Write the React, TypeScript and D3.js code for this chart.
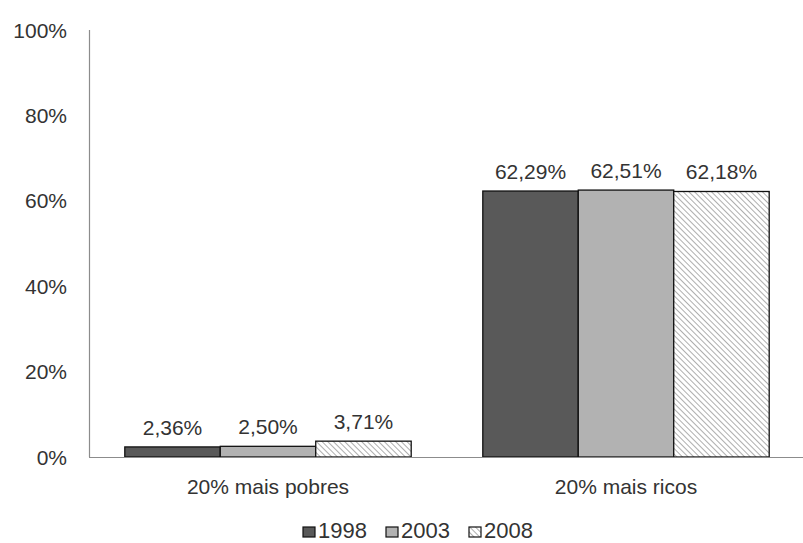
import React, { useEffect, useRef } from 'react';
import * as d3 from 'd3';

const categories = ['20% mais pobres', '20% mais ricos'];
const years = ['1998', '2003', '2008'];
const values1998 = [2.36, 62.29];
const values2003 = [2.5, 62.51];
const values2008 = [3.71, 62.18];
const yTicks = [0, 20, 40, 60, 80, 100];

const fills = ['#595959', '#b2b2b2', 'url(#hatch)'];
const font = '"Liberation Sans", Arial, sans-serif';

export default function App() {
  const svgRef = useRef<SVGSVGElement>(null);

  useEffect(() => {
    if (!svgRef.current) return;
    const width = 803;
    const height = 543;
    const svg = d3.select(svgRef.current);
    svg.selectAll('*').remove();
    svg.attr('width', width).attr('height', height);

    const defs = svg.append('defs');
    const pat = defs.append('pattern')
      .attr('id', 'hatch')
      .attr('patternUnits', 'userSpaceOnUse')
      .attr('width', 4).attr('height', 4)
      .attr('patternTransform', 'rotate(45)');
    pat.append('rect').attr('width', 4).attr('height', 4).attr('fill', '#ffffff');
    pat.append('line').attr('x1', 0).attr('y1', 0).attr('x2', 4).attr('y2', 0)
      .attr('stroke', '#9a9a9a').attr('stroke-width', 1.6);

    const series = [values1998, values2003, values2008];

    const x0 = d3.scaleBand().domain(categories).range([89, 805]).paddingInner(0.2).paddingOuter(0.1);
    const x1 = d3.scaleBand().domain(years).range([0, x0.bandwidth()]);
    const y = d3.scaleLinear().domain([0, 100]).range([457, 30]);

    // y axis line
    svg.append('line').attr('x1', 89.5).attr('x2', 89.5).attr('y1', y(100)).attr('y2', y(0))
      .attr('stroke', '#8c8c8c').attr('stroke-width', 1.2);

    // tick labels
    svg.selectAll('.ytick').data(yTicks).enter().append('text')
      .attr('x', 67).attr('y', (d) => y(d))
      .attr('text-anchor', 'end').attr('dominant-baseline', 'central')
      .attr('font-family', font).attr('font-size', 21).attr('fill', '#333')
      .text((d) => `${d}%`);

    // bars
    categories.forEach((c, ci) => {
      years.forEach((yr, si) => {
        const v = series[si][ci];
        const bx = (x0(c) || 0) + (x1(yr) || 0);
        svg.append('rect')
          .attr('x', bx).attr('y', y(v))
          .attr('width', x1.bandwidth()).attr('height', y(0) - y(v))
          .attr('fill', fills[si]).attr('stroke', '#111').attr('stroke-width', 1.3);
        svg.append('text')
          .attr('x', bx + x1.bandwidth() / 2).attr('y', y(v) - 12)
          .attr('text-anchor', 'middle')
          .attr('font-family', font).attr('font-size', 21).attr('fill', '#333')
          .text(v.toFixed(2).replace('.', ',') + '%');
      });
      svg.append('text')
        .attr('x', (x0(c) || 0) + x0.bandwidth() / 2).attr('y', 494)
        .attr('text-anchor', 'middle')
        .attr('font-family', font).attr('font-size', 21).attr('fill', '#333')
        .text(c);
    });

    // x axis line
    svg.append('line').attr('x1', 89).attr('x2', 803).attr('y1', y(0) + 0.5).attr('y2', y(0) + 0.5)
      .attr('stroke', '#8c8c8c').attr('stroke-width', 1.2);

    // legend
    const legendX = [303, 386, 469];
    years.forEach((yr, i) => {
      svg.append('rect')
        .attr('x', legendX[i]).attr('y', 527).attr('width', 12).attr('height', 10)
        .attr('fill', fills[i]).attr('stroke', '#111').attr('stroke-width', 1.2);
      svg.append('text')
        .attr('x', legendX[i] + 15).attr('y', 538)
        .attr('font-family', font).attr('font-size', 22).attr('fill', '#333')
        .text(yr);
    });
  }, []);

  return (
    <div style={{ position: 'absolute', left: 0, top: 0, width: 803, height: 543, background: '#fff' }}>
      <svg ref={svgRef} style={{ display: 'block' }} />
    </div>
  );
}
